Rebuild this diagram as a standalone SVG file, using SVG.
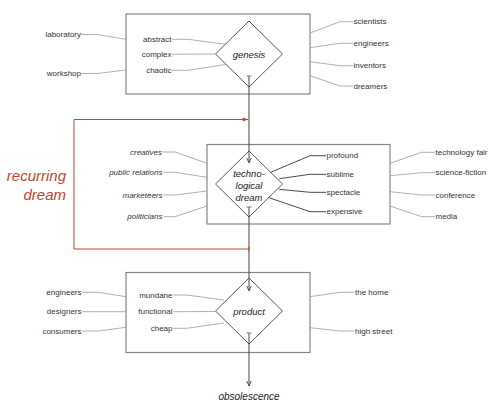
<svg xmlns="http://www.w3.org/2000/svg" width="500" height="420" viewBox="0 0 500 420">
<style>
text{font-family:"Liberation Sans",Arial,sans-serif;font-size:8px;fill:#333}
.it{font-style:italic}
.e{text-anchor:end}
.c{text-anchor:middle;font-size:9.5px;font-style:italic;fill:#222}
.box{fill:none;stroke:#858585;stroke-width:1.2}
.dia{fill:#fff;stroke:#555;stroke-width:1}
.g{fill:none;stroke:#9a9a9a;stroke-width:0.8}
.d{fill:none;stroke:#333;stroke-width:0.9}
.flow{fill:none;stroke:#444;stroke-width:1}
.red{fill:none;stroke:#c4432b;stroke-width:1}
.rd{font-size:15px;font-style:italic;fill:#c4432b;text-anchor:end}
</style>
<defs>
<marker id="ah" viewBox="0 0 6 6" refX="5.5" refY="3" markerWidth="6" markerHeight="6" markerUnits="userSpaceOnUse" orient="auto">
<path d="M0.5,0.8 L5.5,3 L0.5,5.2" fill="none" stroke="#444" stroke-width="0.9"/>
</marker>
<marker id="tk" viewBox="-1 -3 2 6" refX="0" refY="0" markerWidth="2" markerHeight="6" markerUnits="userSpaceOnUse" orient="auto">
<path d="M0,-2.5 L0,2.5" stroke="#777" stroke-width="1"/>
</marker>
<marker id="ahr" viewBox="0 0 6 6" refX="5.5" refY="3" markerWidth="6" markerHeight="6" markerUnits="userSpaceOnUse" orient="auto">
<path d="M0.5,1 L5.5,3 L0.5,5 Z" fill="#c4432b"/>
</marker>
<marker id="tkr" viewBox="-1 -3 2 6" refX="0" refY="0" markerWidth="2" markerHeight="6" markerUnits="userSpaceOnUse" orient="auto">
<path d="M0,-2.5 L0,2.5" stroke="#c4432b" stroke-width="1"/>
</marker>
</defs>

<g id="recurring-dream-label">
<text class="rd" x="66" y="181">recurring</text>
<text class="rd" x="66" y="200">dream</text>
</g>

<g id="genesis">
<rect class="box" x="126" y="14" width="184" height="80"/>
<path class="dia" d="M249,21 L282.5,54 L249,87 L215.5,54 Z"/>
<text class="c" x="249" y="57.5">genesis</text>
</g>
<g id="techno-dream">
<rect class="box" x="207" y="144.5" width="183" height="79.5"/>
<path class="dia" d="M249,151 L282.5,184 L249,217 L215.5,184 Z"/>
<text class="c" x="249" y="176.5">techno-</text>
<text class="c" x="249" y="188.5">logical</text>
<text class="c" x="249" y="201">dream</text>
</g>
<g id="product">
<rect class="box" x="126" y="272.5" width="184" height="80"/>
<path class="dia" d="M249,278 L282.5,311 L249,344 L215.5,311 Z"/>
<text class="c" x="249" y="314.5">product</text>
</g>
<g id="obsolescence">
<text class="c" x="249" y="399.5" style="font-size:10px">obsolescence</text>
</g>

<g id="connectors">
<path class="flow" d="M249,76 V163" marker-start="url(#tk)" marker-end="url(#ah)"/>
<path class="flow" d="M249,207 V291" marker-start="url(#tk)" marker-end="url(#ah)"/>
<path class="flow" d="M249,333 V386" marker-start="url(#tk)" marker-end="url(#ah)"/>
<path class="red" d="M249,249 H74 V119.5 H248" marker-start="url(#tkr)" marker-end="url(#ahr)"/>

<polyline class="g" points="81.5,34.5 97,34.5 126,39.3"/>
<polyline class="g" points="81.5,73.5 97,73.5 126,70"/>
<polyline class="g" points="172,39.3 188,39.3 225.7,44.3"/>
<polyline class="g" points="172,54.2 215.5,54"/>
<polyline class="g" points="172,70.3 188,70.3 225.7,64.5"/>
<polyline class="g" points="310,33 340,21.7 353,21.7"/>
<polyline class="g" points="310,47.7 340,43.3 353,43.3"/>
<polyline class="g" points="310,61.7 340,65.7 353,65.7"/>
<polyline class="g" points="310,75.7 340,86 353,86"/>

<polyline class="g" points="162.5,152 175,152 207,163.3"/>
<polyline class="g" points="163.5,172.3 175,172.3 207,177.3"/>
<polyline class="g" points="163.5,195 175,195 207,191"/>
<polyline class="g" points="163.5,216.7 175,216.7 207,206"/>
<polyline class="d" points="270.7,172.3 310,155.7 326,155.7"/>
<polyline class="d" points="279.3,178.7 310,174.3 326,174.3"/>
<polyline class="d" points="279.3,189.3 310,192.3 326,192.3"/>
<polyline class="d" points="268.5,197.5 310,211.7 326,211.7"/>
<polyline class="g" points="390,163.3 421.7,152.3 435,152.3"/>
<polyline class="g" points="390,175.7 421.7,172.7 435,172.7"/>
<polyline class="g" points="390,191.7 421.7,195 435,195"/>
<polyline class="g" points="390,206 421.7,216.7 435,216.7"/>

<polyline class="g" points="82,292.3 98.3,292.3 126,296.7"/>
<polyline class="g" points="82,311.7 126,311.7"/>
<polyline class="g" points="82,331 98.3,331 126,327.3"/>
<polyline class="g" points="173.3,295 186.7,295 224,300"/>
<polyline class="g" points="173.3,311.7 215.5,311.5"/>
<polyline class="g" points="173.3,328.3 186.7,328.3 224,323"/>
<polyline class="g" points="310,296.7 340,292.3 354.3,292.3"/>
<polyline class="g" points="310,327.7 340,331 354.3,331"/>
</g>

<g id="laboratory"><text class="e" x="81" y="37.3">laboratory</text></g>
<g id="workshop"><text class="e" x="81" y="76.3">workshop</text></g>
<g id="abstract"><text class="e" x="171.5" y="42">abstract</text></g>
<g id="complex"><text class="e" x="171.5" y="57">complex</text></g>
<g id="chaotic"><text class="e" x="171.5" y="73">chaotic</text></g>
<g id="scientists"><text x="353.5" y="24.4">scientists</text></g>
<g id="engineers-top"><text x="353.5" y="46">engineers</text></g>
<g id="inventors"><text x="353.5" y="68.4">inventors</text></g>
<g id="dreamers"><text x="353.5" y="88.7">dreamers</text></g>

<g id="creatives"><text class="e it" x="162" y="154.7">creatives</text></g>
<g id="public-relations"><text class="e it" x="162.5" y="175">public relations</text></g>
<g id="marketeers"><text class="e it" x="162.5" y="197.7">marketeers</text></g>
<g id="politicians"><text class="e it" x="162.5" y="219.4">politicians</text></g>
<g id="profound"><text x="326.5" y="158.4">profound</text></g>
<g id="sublime"><text x="326.5" y="177">sublime</text></g>
<g id="spectacle"><text x="326.5" y="195">spectacle</text></g>
<g id="expensive"><text x="326.5" y="214.4">expensive</text></g>
<g id="technology-fair"><text x="435.5" y="155">technology fair</text></g>
<g id="science-fiction"><text x="435.5" y="175.4">science-fiction</text></g>
<g id="conference"><text x="435.5" y="197.7">conference</text></g>
<g id="media"><text x="435.5" y="219.4">media</text></g>

<g id="engineers-bottom"><text class="e" x="81.5" y="295">engineers</text></g>
<g id="designers"><text class="e" x="81.5" y="314.4">designers</text></g>
<g id="consumers"><text class="e" x="81.5" y="333.7">consumers</text></g>
<g id="mundane"><text class="e" x="172.5" y="297.7">mundane</text></g>
<g id="functional"><text class="e" x="172.5" y="314.4">functional</text></g>
<g id="cheap"><text class="e" x="172.5" y="331">cheap</text></g>
<g id="the-home"><text x="355" y="295">the home</text></g>
<g id="high-street"><text x="355" y="333.7">high street</text></g>
</svg>
